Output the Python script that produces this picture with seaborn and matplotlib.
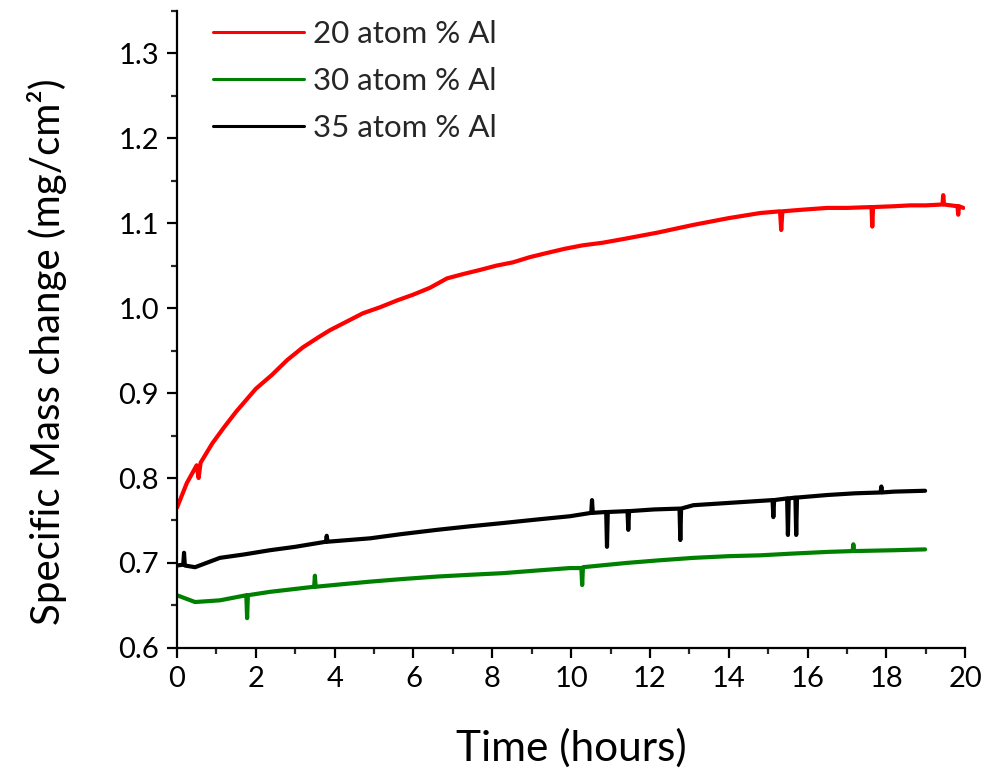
import numpy as np
import pandas as pd
import seaborn as sns
import matplotlib
matplotlib.use("Agg")
import matplotlib.pyplot as plt
from matplotlib.ticker import MultipleLocator, FormatStrFormatter

# ---- data ----
t_20 = [0.0, 0.25, 0.5, 0.55, 0.6, 0.9, 1.2, 1.5, 2.0, 2.4, 2.8, 3.2, 3.6, 3.88, 4.3, 4.72, 5.15,
        5.58, 6.0, 6.42, 6.85, 7.25, 7.69, 8.1, 8.53, 8.95, 9.39, 9.85, 10.3, 10.8, 11.4, 12.2,
        13.1, 14.0, 14.8, 15.3, 15.33, 15.36, 15.9, 16.5, 17.0, 17.62, 17.64, 17.66, 18.2, 18.6,
        19.0, 19.42, 19.44, 19.46, 19.8, 19.82, 19.84, 19.95]
v_20 = [0.765, 0.794, 0.815, 0.800, 0.818, 0.841, 0.860, 0.878, 0.905, 0.921, 0.939, 0.954, 0.966, 0.974, 0.984, 0.994, 1.001,
        1.009, 1.016, 1.024, 1.035, 1.040, 1.045, 1.050, 1.054, 1.060, 1.065, 1.070, 1.074, 1.077, 1.082, 1.089,
        1.098, 1.106, 1.112, 1.114, 1.092, 1.114, 1.116, 1.118, 1.118, 1.119, 1.096, 1.119, 1.120, 1.121,
        1.121, 1.122, 1.133, 1.122, 1.120, 1.110, 1.120, 1.118]

t_30 = [0.0, 0.46, 1.09, 1.76, 1.78, 1.80, 2.36, 3.48, 3.5, 3.52, 4.2, 4.9, 5.7, 6.6, 7.4, 8.27, 9.1, 9.97, 10.26,
        10.28, 10.30, 11.4, 12.2, 13.1, 14.0, 14.8, 15.6, 16.5, 17.14, 17.16, 17.18, 18.2, 18.98]
v_30 = [0.662, 0.654, 0.656, 0.662, 0.635, 0.662, 0.666, 0.672, 0.685, 0.672, 0.675, 0.678, 0.681, 0.684, 0.686, 0.688, 0.691, 0.694, 0.694,
        0.674, 0.695, 0.700, 0.703, 0.706, 0.708, 0.709, 0.711, 0.713, 0.714, 0.722, 0.714, 0.715, 0.716]

t_35 = [0.0, 0.16, 0.18, 0.20, 0.46, 1.09, 1.7, 2.36, 3.0, 3.78, 3.8, 3.82, 4.9, 5.7, 6.6, 7.4, 8.27, 9.1, 9.97,
        10.51, 10.53, 10.55, 10.89, 10.91, 10.93, 11.43, 11.45, 11.47, 12.1, 12.75, 12.77, 12.79, 13.1,
        14.1, 15.11, 15.13, 15.15, 15.48, 15.5, 15.52, 15.69, 15.71, 15.73, 16.5, 17.2, 17.85, 17.87,
        17.89, 18.2, 18.98]
v_35 = [0.697, 0.698, 0.712, 0.697, 0.695, 0.706, 0.710, 0.715, 0.719, 0.725, 0.732, 0.725, 0.729, 0.734, 0.739, 0.743, 0.747, 0.751, 0.755,
        0.759, 0.774, 0.759, 0.760, 0.719, 0.760, 0.761, 0.739, 0.761, 0.763, 0.764, 0.727, 0.764, 0.768,
        0.771, 0.774, 0.754, 0.774, 0.776, 0.733, 0.776, 0.777, 0.733, 0.777, 0.780, 0.782, 0.783, 0.790,
        0.783, 0.784, 0.785]

labels = ["20 atom % Al", "30 atom % Al", "35 atom % Al"]
colors = ["#ff0000", "#008000", "#000000"]

x_ticks = list(range(0, 21, 2))
y_ticks = [0.6, 0.7, 0.8, 0.9, 1.0, 1.1, 1.2, 1.3]

df = pd.concat([
    pd.DataFrame({"Time": t_20, "Mass": v_20, "Sample": labels[0]}),
    pd.DataFrame({"Time": t_30, "Mass": v_30, "Sample": labels[1]}),
    pd.DataFrame({"Time": t_35, "Mass": v_35, "Sample": labels[2]}),
], ignore_index=True)

sns.set_theme(style="ticks")
plt.rcParams["font.family"] = ["Lato", "DejaVu Sans"]

fig = plt.figure(figsize=(9.83, 7.75), dpi=100)
ax = fig.add_axes([0.180, 0.164, 0.802, 0.822])

sns.lineplot(data=df, x="Time", y="Mass", hue="Sample", palette=colors,
             estimator=None, sort=False, linewidth=3.0, ax=ax)

ax.set_xlim(0, 20)
ax.set_ylim(0.6, 1.35)
ax.set_xticks(x_ticks)
ax.set_yticks(y_ticks)
ax.xaxis.set_minor_locator(MultipleLocator(1))
ax.yaxis.set_minor_locator(MultipleLocator(0.05))
ax.yaxis.set_major_formatter(FormatStrFormatter("%.1f"))
ax.tick_params(which="major", direction="out", length=7, width=1.6, labelsize=21, colors="black", pad=6)
ax.tick_params(which="minor", direction="out", length=4, width=1.6)
for s in ["left", "bottom"]:
    ax.spines[s].set_linewidth(1.6)
    ax.spines[s].set_color("black")
sns.despine(ax=ax)

ax.set_xlabel("Time (hours)", fontsize=30.5, labelpad=26, color="black")
ax.set_ylabel("Specific Mass change (mg/cm²)", fontsize=29, labelpad=30, color="black")
ax.yaxis.set_label_coords(-0.14, 0.465)

leg = ax.legend(loc="upper left", bbox_to_anchor=(0.03, 1.005), frameon=False, fontsize=22.5,
                handlelength=2.9, handletextpad=0.3, labelspacing=0.6, borderaxespad=0)
for h in leg.get_lines():
    h.set_linewidth(2.2)

fig.savefig("out.png", dpi=100)
